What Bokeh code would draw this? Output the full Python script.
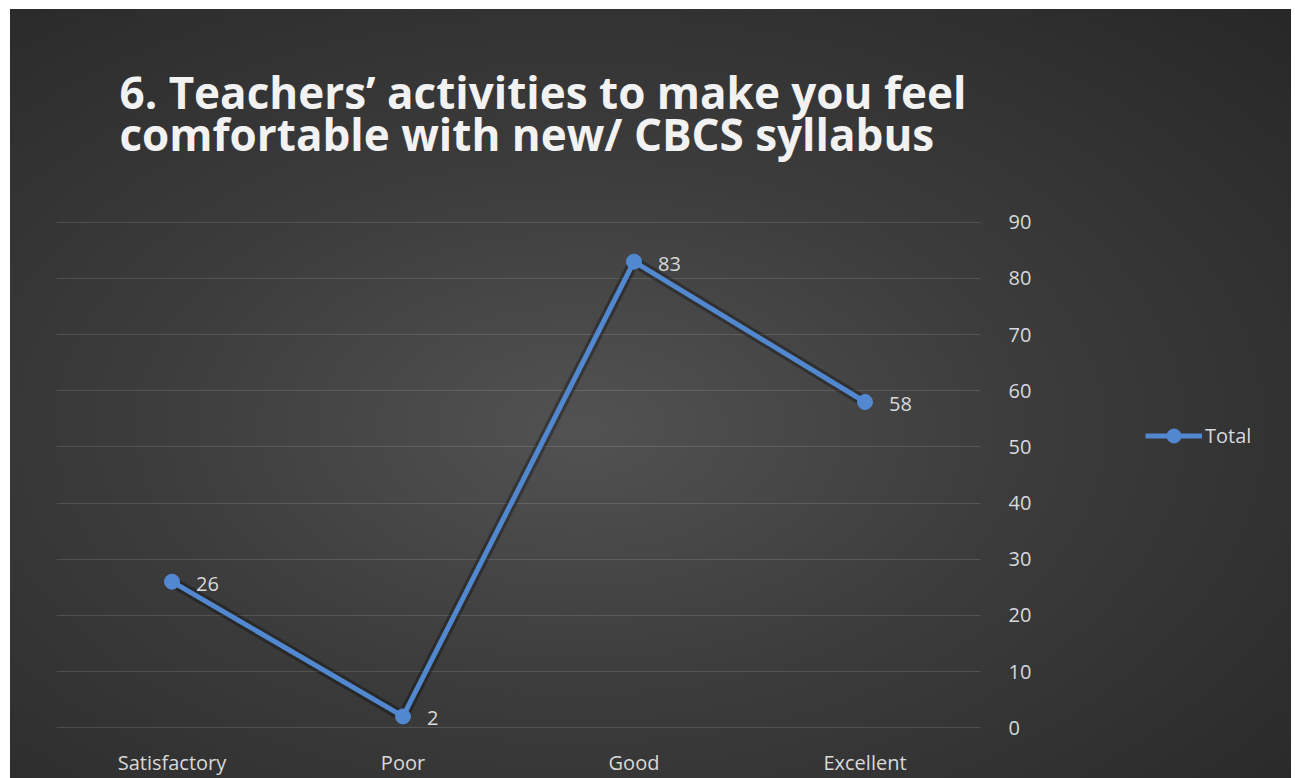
from bokeh.plotting import figure
from bokeh.layouts import row
from bokeh.models import (FactorRange, Range1d, Legend, LegendItem, Title,
                          InlineStyleSheet, FixedTicker)
from bokeh.core.properties import value
from bokeh.embed import file_html
from bokeh.resources import INLINE

# ---- data ----
categories = ["Satisfactory", "Poor", "Good", "Excellent"]
totals = [26, 2, 83, 58]
y_ticks = [0, 10, 20, 30, 40, 50, 60, 70, 80, 90]
series_name = "Total"
title_lines = ["6. Teachers\u2019 activities to make you feel",
               "comfortable with new/ CBCS syllabus"]

BLUE = "#5288d0"
TEXT = "#d9d9d9"
FONT = "Open Sans"

p = figure(width=1100, height=778,
           x_range=FactorRange(*categories), y_range=Range1d(-0.15, 90.15),
           y_axis_location="right", output_backend="svg", toolbar_location=None,
           min_border_left=56, min_border_right=120,
           min_border_top=221, min_border_bottom=50)
p.title = None
p.border_fill_color = None
p.background_fill_color = None
p.outline_line_color = None

# grid
p.xgrid.grid_line_color = None
p.ygrid.grid_line_color = "#ffffff"
p.ygrid.grid_line_alpha = 0.13
p.ygrid.grid_line_width = 1
p.yaxis.ticker = FixedTicker(ticks=y_ticks)

for ax in (p.xaxis[0], p.yaxis[0]):
    ax.axis_line_color = None
    ax.major_tick_line_color = None
    ax.minor_tick_line_color = None
    ax.major_label_text_color = TEXT
    ax.major_label_text_font = FONT
    ax.major_label_text_font_size = "20px"
p.xaxis.major_label_standoff = 14
p.yaxis.major_label_standoff = 22

# shadow + line + markers
p.line(categories, totals, line_color="#000000", line_alpha=0.3, line_width=11)
p.line(categories, totals, line_color=BLUE, line_width=5)
p.scatter(categories, totals, size=15, fill_color=BLUE, line_color=BLUE)

# data labels
p.text(categories, totals, text=[str(v) for v in totals],
       x_offset=24, y_offset=2, text_align="left", text_baseline="middle",
       text_color=TEXT, text_font=value(FONT), text_font_size=value("20px"))

# two-line title
p.add_layout(Title(text=title_lines[0] + "\n" + title_lines[1],
                   align="left", offset=63, standoff=115,
                   text_line_height=0.70,
                   text_color="#f2f2f2", text_font=FONT, text_font_style="bold",
                   text_font_size="44px"), "above")

# ---- legend panel (second figure to the right) ----
q = figure(width=191, height=778, x_range=Range1d(0, 1), y_range=Range1d(0, 1),
           x_axis_location=None, y_axis_location=None,
           output_backend="svg", toolbar_location=None, min_border=0)
q.title = None
q.border_fill_color = None
q.background_fill_color = None
q.outline_line_color = None
q.grid.visible = False
# legend-only renderers (their points lie outside this panel's ranges)
lg_line = q.line([5, 6], [5, 6], line_color=BLUE, line_width=5)
lg_pts = q.scatter([5, 6], [5, 6], size=15, fill_color=BLUE, line_color=BLUE)

legend = Legend(items=[LegendItem(label=series_name, renderers=[lg_line, lg_pts])],
                location=(45, 275), orientation="vertical",
                background_fill_alpha=0, border_line_color=None,
                padding=0, margin=0, glyph_width=57, glyph_height=35,
                label_height=20, label_standoff=3,
                label_text_color=TEXT, label_text_font=FONT,
                label_text_font_size="20px")
q.add_layout(legend, "center")

layout = row(p, q, spacing=0)
layout.stylesheets = [InlineStyleSheet(css=""":host {
  background:
    linear-gradient(#ffffff, #ffffff) top left / 100% 9px no-repeat,
    linear-gradient(#ffffff, #ffffff) top left / 10px 100% no-repeat,
    radial-gradient(ellipse 75% 75% at 45% 55%, #525252 0%, #3c3c3c 45%, #282828 100%);
}""")]

open("out.html", "w").write(file_html(layout, INLINE))
